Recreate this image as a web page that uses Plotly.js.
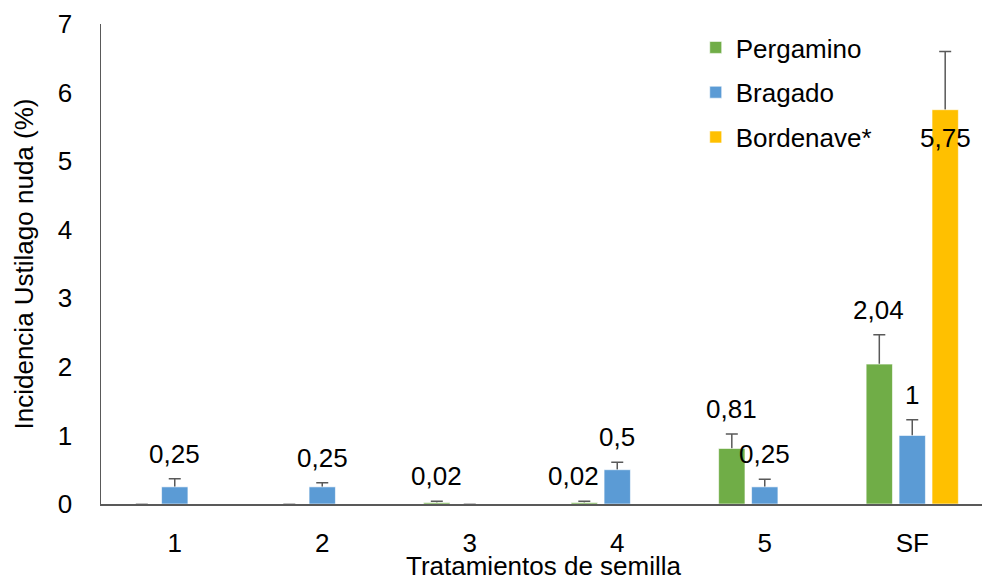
<!DOCTYPE html>
<html>
<head>
<meta charset="utf-8">
<script src="https://cdn.plot.ly/plotly-3.0.1.min.js"></script>
<style>html,body{margin:0;padding:0;background:#fff;overflow:hidden}#chart{width:986px;height:581px}</style>
</head>
<body>
<div id="chart"></div>
<script>
// ---- data ----
var categories = ['1', '2', '3', '4', '5', 'SF'];
var seriesNames = ['Pergamino', 'Bragado', 'Bordenave*'];
var pergamino = [0, 0, 0.02, 0.02, 0.81, 2.04];
var bragado = [0.25, 0.25, 0, 0.5, 0.25, 1];
var bordenave = [null, null, null, null, null, 5.75];
var pergaminoErr = [0, 0, 0.02, 0.02, 0.21, 0.43];
var bragadoErr = [0.12, 0.06, 0, 0.11, 0.11, 0.23];
var bordenaveErr = [null, null, null, null, null, 0.85];

// ---- style ----
var colors = ['#70AD47', '#5B9BD5', '#FFC000'];
var FONT = 'Arial, "Liberation Sans", sans-serif';
var FS = 26;
var values = [pergamino, bragado, bordenave];
var errors = [pergaminoErr, bragadoErr, bordenaveErr];
var slotPx = 33.5; // horizontal offset of each bar in a group
var labelNudge = {'0|3': -10}; // series|category index -> x nudge (px)

// error-bar carrier traces (drawn first, so the visible bars hide the lower part)
var errTraces = seriesNames.map(function (name, i) {
  return {
    type: 'bar', name: name + ' err', x: categories, y: values[i],
    offsetgroup: 'g' + i, showlegend: false, hoverinfo: 'skip',
    marker: {color: 'rgba(0,0,0,0)', line: {width: 0}},
    error_y: {type: 'data', array: errors[i], symmetric: false,
              arrayminus: values[i].map(function (v) { return v; }),
              color: '#595959', thickness: 1.5, width: 6}
  };
});
var barTraces = seriesNames.map(function (name, i) {
  return {
    type: 'bar', name: name, x: categories, y: values[i],
    offsetgroup: 'g' + i, legendgroup: 'g' + i,
    marker: {color: colors[i], line: {color: 'rgba(255,255,255,0.6)', width: 1}},
    hoverinfo: 'x+y'
  };
});

var annotations = [];
values.forEach(function (arr, s) {
  arr.forEach(function (v, c) {
    if (v === null || v === 0) return;
    var e = errors[s][c] || 0;
    var txt = String(v).replace('.', ',');
    var a = {
      x: c, xref: 'x', yref: 'y', text: txt, showarrow: false,
      xshift: (s - 1) * slotPx + (labelNudge[s + '|' + c] || 0),
      font: {family: FONT, size: FS, color: '#000'}
    };
    if (v + e > 6.2) { a.y = v; a.yanchor = 'middle'; a.yshift = -28; }
    else { a.y = v + e; a.yanchor = 'middle'; a.yshift = 25; }
    annotations.push(a);
  });
});

var layout = {
  width: 986, height: 581,
  margin: {l: 101, r: 0, t: 24, b: 77},
  paper_bgcolor: '#fff', plot_bgcolor: '#fff',
  font: {family: FONT, size: FS, color: '#000'},
  separators: ',.',
  barmode: 'group', bargap: 0.33, bargroupgap: 0.2,
  showlegend: true,
  legend: {x: 0.672, y: 1.0, xanchor: 'left', yanchor: 'top', bgcolor: 'rgba(0,0,0,0)',
           font: {family: FONT, size: FS, color: '#000'}, tracegroupgap: 8, itemwidth: 30},
  xaxis: {
    type: 'category', categoryorder: 'array', categoryarray: categories,
    showline: true, linecolor: '#595959', linewidth: 1.5, ticks: '', showgrid: false, zeroline: false,
    tickfont: {family: FONT, size: FS, color: '#000'}, ticklabelstandoff: 15,
    title: {text: 'Tratamientos de semilla', font: {family: FONT, size: FS, color: '#000'}, standoff: 9}
  },
  yaxis: {
    range: [0, 7], dtick: 1, tick0: 0,
    showline: true, linecolor: '#595959', linewidth: 1.5, ticks: '', showgrid: false, zeroline: false,
    tickfont: {family: FONT, size: FS, color: '#000'}, ticklabelstandoff: 22,
    title: {text: 'Incidencia Ustilago nuda (%)', font: {family: FONT, size: FS, color: '#000'}, standoff: 16}
  },
  annotations: annotations
};

Plotly.newPlot('chart', errTraces.concat(barTraces), layout, {displayModeBar: false, staticPlot: true});
</script>
</body>
</html>
